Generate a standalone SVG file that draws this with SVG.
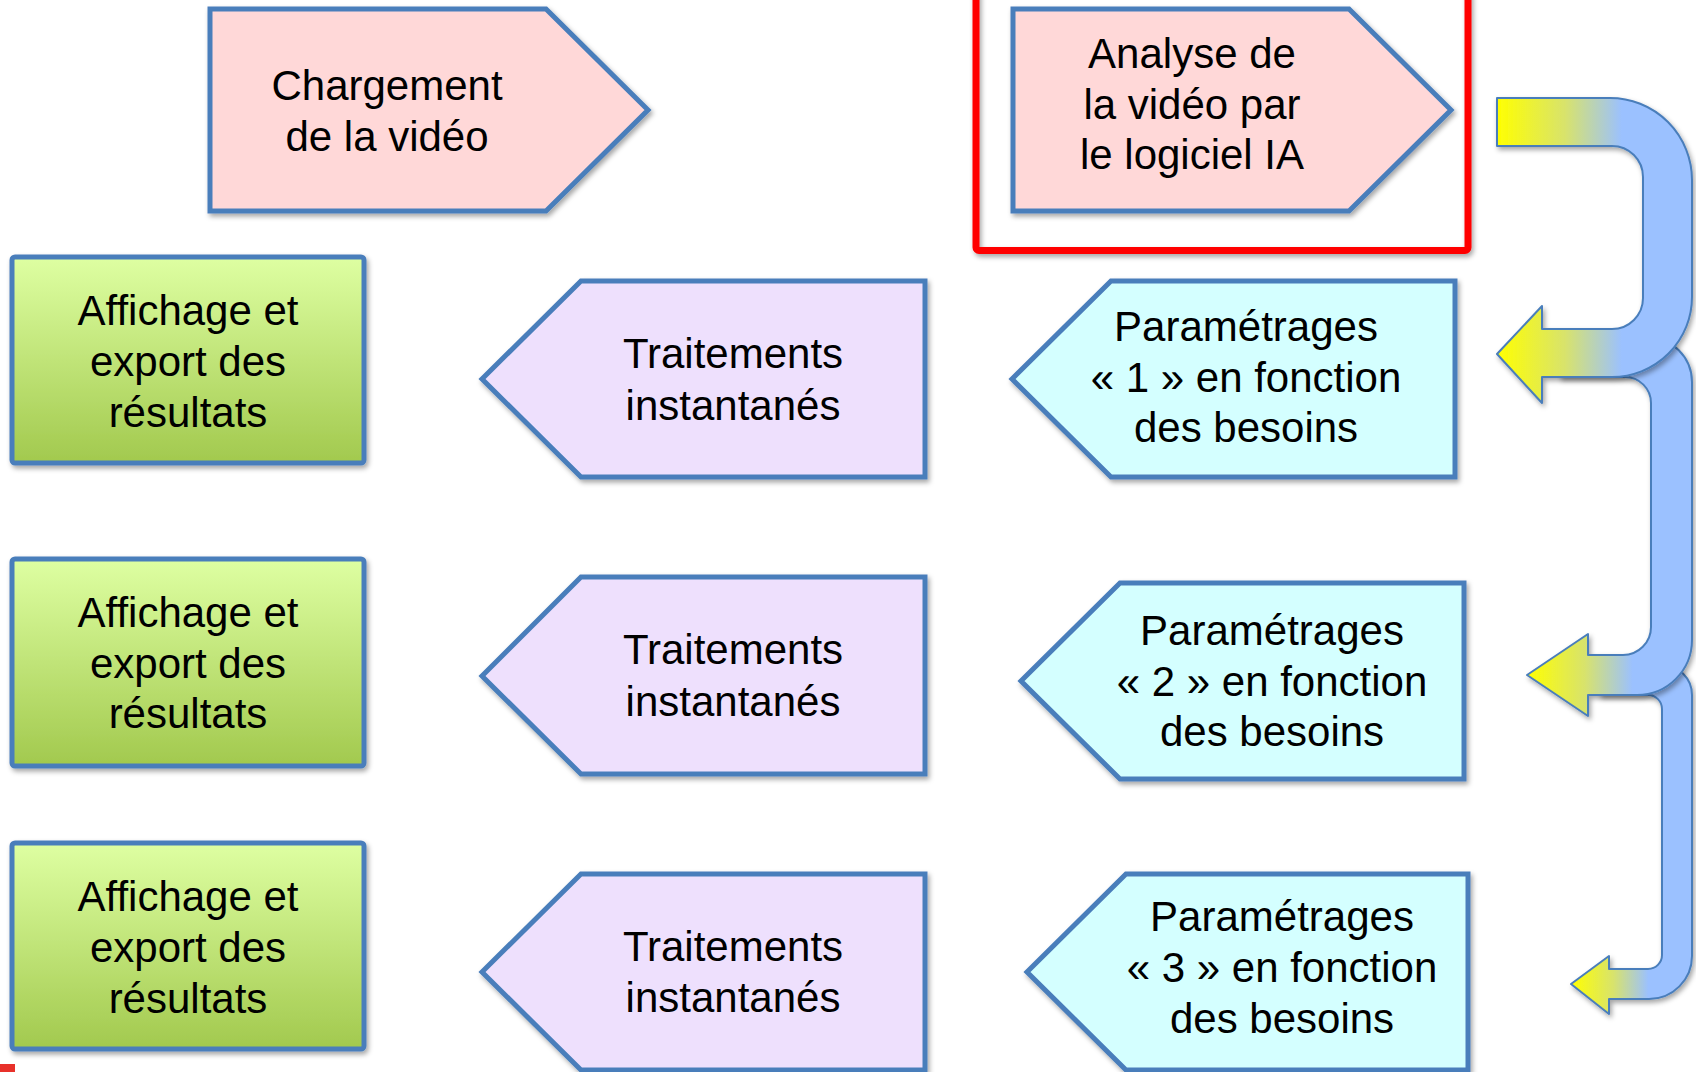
<svg xmlns="http://www.w3.org/2000/svg" width="1696" height="1072" viewBox="0 0 1696 1072">
<style>
.shape{stroke:#4A7EBB;stroke-width:5;stroke-linejoin:miter;filter:url(#sh)}
.pink{fill:#FFD8D8}
.lav{fill:#EEE0FD}
.cyan{fill:#D4FFFF}
.green{fill:url(#gGreen)}
.lbl{font-family:"Liberation Sans",Arial,sans-serif;font-size:42px;fill:#000;text-anchor:middle}
.uarrow{stroke:#4A7EBB;stroke-width:2;stroke-linejoin:round;filter:url(#sh)}
</style>
<defs>
<filter id="sh" x="-10%" y="-10%" width="125%" height="125%">
<feDropShadow dx="2" dy="3" stdDeviation="2.5" flood-color="#000" flood-opacity="0.35"/>
</filter>
<linearGradient id="gGreen" x1="0" y1="0" x2="0" y2="1">
<stop offset="0" stop-color="#DEFFA2"/>
<stop offset="1" stop-color="#A2C94E"/>
</linearGradient>
<linearGradient id="gA1" gradientUnits="userSpaceOnUse" x1="1497" y1="0" x2="1692" y2="0">
<stop offset="0" stop-color="#FFFF00"/>
<stop offset="0.35" stop-color="#D8E36C"/>
<stop offset="0.64" stop-color="#9BC1FF"/>
<stop offset="1" stop-color="#9BC1FF"/>
</linearGradient>
<linearGradient id="gA2" gradientUnits="userSpaceOnUse" x1="1527" y1="0" x2="1692" y2="0">
<stop offset="0" stop-color="#FFFF00"/>
<stop offset="0.35" stop-color="#D8E36C"/>
<stop offset="0.64" stop-color="#9BC1FF"/>
<stop offset="1" stop-color="#9BC1FF"/>
</linearGradient>
<linearGradient id="gA3" gradientUnits="userSpaceOnUse" x1="1571" y1="0" x2="1692" y2="0">
<stop offset="0" stop-color="#FFFF00"/>
<stop offset="0.35" stop-color="#D8E36C"/>
<stop offset="0.64" stop-color="#9BC1FF"/>
<stop offset="1" stop-color="#9BC1FF"/>
</linearGradient>
</defs>
<rect width="1696" height="1072" fill="#FFFFFF"/>

<g id="connectors">
<path id="uturn3" class="uarrow" fill="url(#gA3)" d="M1600,665 H1662 A30,30 0 0 1 1692,695 V956 A43,43 0 0 1 1649,999 H1609 V1014 L1571,984 L1609,956 V969 H1648 A14,14 0 0 0 1662,955 V709 A14,14 0 0 0 1648,695 H1600 Z"/>
<path id="uturn2" class="uarrow" fill="url(#gA2)" d="M1560,337 H1647 A45,45 0 0 1 1692,382 V640 A55,55 0 0 1 1637,695 H1588 V716 L1527,675 L1588,634 V655 H1623 A28,28 0 0 0 1651,627 V403 A26,26 0 0 0 1625,377 H1560 Z"/>
<path id="uturn1" class="uarrow" fill="url(#gA1)" d="M1497,98 H1610 A82,82 0 0 1 1692,180 V297 A80,80 0 0 1 1612,377 H1542 V403 L1497,354 L1542,306 V329 H1612 A31,31 0 0 0 1643,298 V177 A31,31 0 0 0 1612,146 H1497 Z"/>
</g>

<g id="node-chargement">
<path class="shape pink" d="M210,9 H546 L648,110 L546,211 H210 Z"/>
<text class="lbl" x="387" y="100">Chargement</text>
<text class="lbl" x="387" y="151">de la vidéo</text>
</g>

<g id="node-analyse">
<path class="shape pink" d="M1013,9 H1349 L1451,110 L1349,211 H1013 Z"/>
<text class="lbl" x="1192" y="68">Analyse de</text>
<text class="lbl" x="1192" y="119">la vidéo par</text>
<text class="lbl" x="1192" y="169">le logiciel IA</text>
</g>

<g id="highlight-frame">
<rect x="976" y="-20" width="492" height="270.5" rx="3" fill="none" stroke="#FF0000" stroke-width="7" filter="url(#sh)"/>
</g>

<g id="node-affichage1">
<rect class="shape green" x="12" y="257" width="352" height="206" rx="3"/>
<text class="lbl" x="188" y="325">Affichage et</text>
<text class="lbl" x="188" y="376">export des</text>
<text class="lbl" x="188" y="427">résultats</text>
</g>
<g id="node-affichage2">
<rect class="shape green" x="12" y="559" width="352" height="207" rx="3"/>
<text class="lbl" x="188" y="627">Affichage et</text>
<text class="lbl" x="188" y="678">export des</text>
<text class="lbl" x="188" y="728">résultats</text>
</g>
<g id="node-affichage3">
<rect class="shape green" x="12" y="843" width="352" height="206" rx="3"/>
<text class="lbl" x="188" y="911">Affichage et</text>
<text class="lbl" x="188" y="962">export des</text>
<text class="lbl" x="188" y="1013">résultats</text>
</g>

<g id="node-traitements1">
<path class="shape lav" d="M925,281 V477 H581 L482,379 L581,281 Z"/>
<text class="lbl" x="733" y="368">Traitements</text>
<text class="lbl" x="733" y="420">instantanés</text>
</g>
<g id="node-traitements2">
<path class="shape lav" d="M925,577 V774 H581 L482,676 L581,577 Z"/>
<text class="lbl" x="733" y="664">Traitements</text>
<text class="lbl" x="733" y="716">instantanés</text>
</g>
<g id="node-traitements3">
<path class="shape lav" d="M925,874 V1070 H581 L482,972 L581,874 Z"/>
<text class="lbl" x="733" y="961">Traitements</text>
<text class="lbl" x="733" y="1012">instantanés</text>
</g>

<g id="node-parametrages1">
<path class="shape cyan" d="M1455,281 V477 H1111 L1012,379 L1111,281 Z"/>
<text class="lbl" x="1246" y="341">Paramétrages</text>
<text class="lbl" x="1246" y="392">« 1 » en fonction</text>
<text class="lbl" x="1246" y="442">des besoins</text>
</g>
<g id="node-parametrages2">
<path class="shape cyan" d="M1464,583 V779 H1120 L1021,681 L1120,583 Z"/>
<text class="lbl" x="1272" y="645">Paramétrages</text>
<text class="lbl" x="1272" y="696">« 2 » en fonction</text>
<text class="lbl" x="1272" y="746">des besoins</text>
</g>
<g id="node-parametrages3">
<path class="shape cyan" d="M1468,874 V1070 H1126 L1027,972 L1126,874 Z"/>
<text class="lbl" x="1282" y="931">Paramétrages</text>
<text class="lbl" x="1282" y="982">« 3 » en fonction</text>
<text class="lbl" x="1282" y="1033">des besoins</text>
</g>

<rect id="corner-mark" x="0" y="1064" width="15" height="8" fill="#E8312A"/>
</svg>
